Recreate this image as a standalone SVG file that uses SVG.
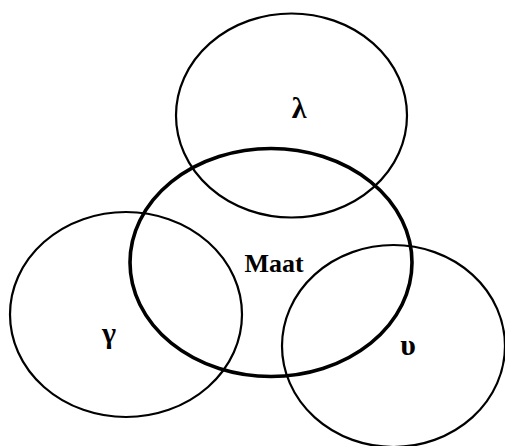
<svg xmlns="http://www.w3.org/2000/svg" width="505" height="446" viewBox="0 0 505 446">
<style>
.e{fill:none;stroke:#000;stroke-width:2.2}
.c{fill:none;stroke:#000;stroke-width:3.6}
.t{font-family:"Liberation Serif","DejaVu Serif",serif;font-weight:bold;fill:#000;text-anchor:middle}
.g{font-size:30px}
</style>
<rect width="505" height="446" fill="#fff"/>
<g id="lambda"><ellipse class="e" cx="291.5" cy="115.5" rx="115.5" ry="102"/><text class="t g" x="299" y="118">λ</text></g>
<g id="gamma"><ellipse class="e" cx="126" cy="314.5" rx="116" ry="102.5"/><text class="t g" x="109" y="343">γ</text></g>
<g id="upsilon"><ellipse class="e" cx="393.5" cy="346" rx="111.5" ry="101"/><text class="t g" x="408" y="355">υ</text></g>
<g id="maat"><ellipse class="c" cx="271" cy="262.5" rx="141" ry="114"/><text class="t" x="274" y="272" font-size="26">Maat</text></g>
</svg>
